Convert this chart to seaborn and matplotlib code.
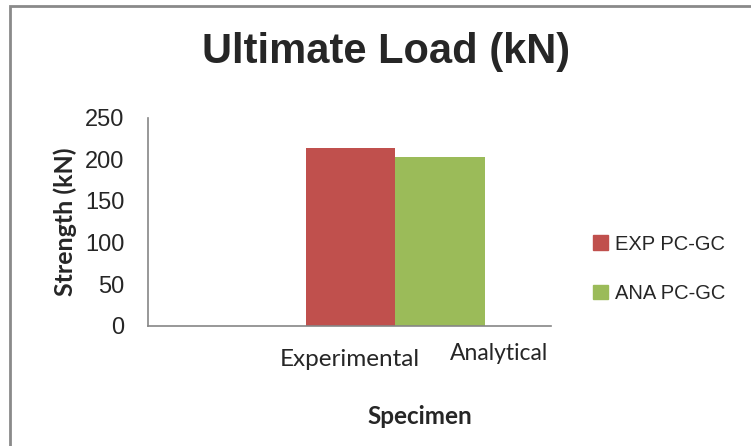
import matplotlib
matplotlib.use("Agg")
import matplotlib.pyplot as plt
import seaborn as sns
import pandas as pd

# data
group = ["PC-GC", "PC-GC"]
series = ["EXP PC-GC", "ANA PC-GC"]
strength = [213.5, 203]
colors = ["#C0504D", "#9BBB59"]
x_labels = ["Experimental", "Analytical"]
y_ticks = [0, 50, 100, 150, 200, 250]

sns.set_style("white")
narrow = ["Liberation Sans Narrow", "Liberation Sans", "DejaVu Sans"]
calibri = ["Lato", "DejaVu Sans"]
plt.rcParams["font.family"] = narrow

df = pd.DataFrame({"group": group, "series": series, "strength": strength})

fig = plt.figure(figsize=(7.51, 4.46), dpi=100)
ax = fig.add_axes([148 / 751, 1 - 325.7 / 446, 403 / 751, 208 / 446])

sns.barplot(data=df, x="group", y="strength", hue="series", palette=colors,
            saturation=1, width=0.8, linewidth=0, ax=ax, legend=False)

axis_grey = "#868686"
ax.set_ylim(0, 250)
ax.set_xlim(-1.104, 0.697)
ax.set_yticks(y_ticks)
ax.set_yticklabels([str(v) for v in y_ticks], fontsize=17)
ax.set_xticks([-1.104, 0.697])
ax.set_xticklabels(["", ""])
ax.tick_params(axis="y", direction="out", length=6, width=1.2, color=axis_grey, pad=11)
ax.tick_params(axis="x", direction="out", length=6, width=1.2, color=axis_grey)
for side in ["top", "right"]:
    ax.spines[side].set_visible(False)
for side in ["left", "bottom"]:
    ax.spines[side].set_color(axis_grey)
    ax.spines[side].set_linewidth(1.2)
ax.set_xlabel("")
ax.set_ylabel("Strength (kN)", fontsize=18, fontweight="bold", family=calibri, labelpad=6)

# category labels sit as loose text boxes under the axis
ax.text(350 / 751, 1 - 359 / 446, x_labels[0], transform=fig.transFigure,
        ha="center", va="center", fontsize=17.5, family=calibri)
ax.text(499 / 751, 1 - 353 / 446, x_labels[1], transform=fig.transFigure,
        ha="center", va="center", fontsize=16.5, family=calibri)
fig.text(419.5 / 751, 1 - 416 / 446, "Specimen", ha="center", va="center",
         fontsize=17.5, fontweight="bold", family=calibri)

fig.text(386 / 751, 1 - 52 / 446, "Ultimate Load (kN)", ha="center", va="center",
         fontsize=30, fontweight="bold")

handles = [plt.Rectangle((0, 0), 1, 1, color=c) for c in colors]
fig.legend(handles, series, loc="center left", bbox_to_anchor=(575 / 751, 1 - 269 / 446),
           frameon=False, fontsize=14.5, handlelength=0.75, handleheight=0.75,
           handletextpad=0.35, labelspacing=1.5)

fig.add_artist(plt.Rectangle((9.5 / 751, -0.1), 1.0, 1 - 6 / 446 + 0.1,
                             transform=fig.transFigure, fill=False,
                             edgecolor="#8a8a8a", linewidth=2))

fig.savefig("out.png", dpi=100)
